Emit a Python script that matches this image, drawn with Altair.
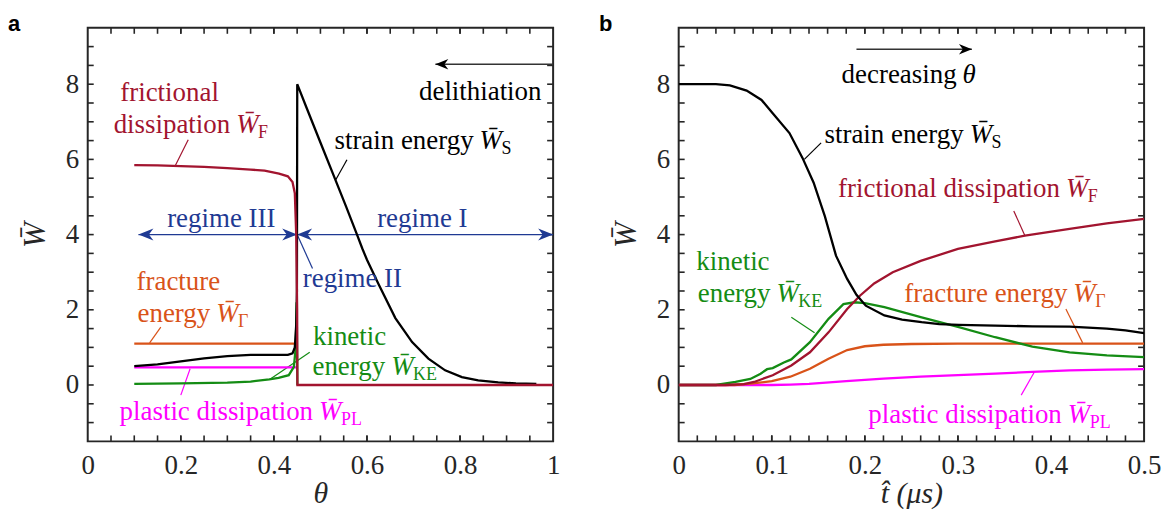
import altair as alt
import pandas as pd
import numpy as np

# ---------------- panel a : energies vs theta ----------------
th_S = [0.10, 0.15, 0.20, 0.25, 0.30, 0.35, 0.40, 0.43, 0.44, 0.445, 0.448, 0.4495, 0.4502,
        0.47, 0.50, 0.532, 0.555, 0.578, 0.59, 0.60, 0.625, 0.661, 0.697, 0.732, 0.768,
        0.804, 0.839, 0.882, 0.92, 0.964]
S_a = [0.50, 0.55, 0.63, 0.71, 0.77, 0.80, 0.80, 0.80, 0.84, 1.00, 1.60, 2.50, 8.00,
       7.38, 6.45, 5.46, 4.75, 4.02, 3.63, 3.33, 2.68, 1.78, 1.14, 0.70, 0.39,
       0.21, 0.12, 0.07, 0.04, 0.03]
th_F = [0.10, 0.15, 0.20, 0.25, 0.30, 0.35, 0.38, 0.411, 0.43, 0.44, 0.445, 0.448, 0.4500, 0.4505, 1.0]
F_a = [5.85, 5.84, 5.82, 5.80, 5.77, 5.73, 5.70, 5.62, 5.55, 5.40, 5.10, 4.00, 2.00, 0.00, 0.00]
th_G = [0.10, 0.45]
G_a = [1.10, 1.10]
th_P = [0.10, 0.449]
P_a = [0.47, 0.47]
th_K = [0.10, 0.20, 0.30, 0.35, 0.39, 0.41, 0.432, 0.443, 0.447, 0.449, 0.4505]
K_a = [0.03, 0.04, 0.06, 0.09, 0.15, 0.19, 0.26, 0.48, 1.00, 2.20, 0.00]

# ---------------- panel b : energies vs time ----------------
t_S = [0.0, 0.02, 0.04, 0.055, 0.073, 0.089, 0.101, 0.119, 0.133, 0.145, 0.157, 0.169, 0.181,
       0.191, 0.201, 0.221, 0.24, 0.261, 0.28, 0.301, 0.34, 0.38, 0.42, 0.46, 0.48, 0.5]
S_b = [8.0, 8.0, 8.0, 7.97, 7.83, 7.58, 7.23, 6.70, 6.04, 5.38, 4.49, 3.44, 2.82,
       2.40, 2.11, 1.85, 1.74, 1.67, 1.62, 1.60, 1.58, 1.56, 1.55, 1.50, 1.45, 1.38]
t_F = [0.0, 0.05, 0.07, 0.081, 0.101, 0.121, 0.141, 0.161, 0.181, 0.195, 0.21, 0.23, 0.26,
       0.30, 0.34, 0.372, 0.42, 0.46, 0.5]
F_b = [0.0, 0.0, 0.02, 0.08, 0.26, 0.52, 0.87, 1.40, 2.02, 2.38, 2.70, 3.00, 3.30,
       3.62, 3.82, 3.97, 4.15, 4.30, 4.42]
t_K = [0.0, 0.04, 0.061, 0.077, 0.088, 0.095, 0.101, 0.113, 0.121, 0.141, 0.161, 0.177, 0.189,
       0.20, 0.221, 0.261, 0.301, 0.34, 0.38, 0.42, 0.46, 0.5]
K_b = [0.0, 0.0, 0.08, 0.16, 0.30, 0.42, 0.45, 0.60, 0.68, 1.14, 1.76, 2.15, 2.20,
       2.18, 2.07, 1.80, 1.54, 1.27, 1.02, 0.87, 0.79, 0.74]
t_G = [0.0, 0.06, 0.08, 0.10, 0.12, 0.141, 0.161, 0.181, 0.20, 0.22, 0.25, 0.30, 0.5]
G_b = [0.0, 0.0, 0.04, 0.10, 0.22, 0.43, 0.70, 0.93, 1.03, 1.07, 1.09, 1.10, 1.10]
t_P = [0.0, 0.10, 0.12, 0.14, 0.18, 0.22, 0.26, 0.30, 0.34, 0.38, 0.42, 0.46, 0.5]
P_b = [0.0, 0.0, 0.01, 0.03, 0.10, 0.17, 0.22, 0.26, 0.30, 0.35, 0.39, 0.41, 0.42]

# axis tick values
xa_labels = [0, 0.2, 0.4, 0.6, 0.8, 1]
xb_labels = [0, 0.1, 0.2, 0.3, 0.4, 0.5]
y_labels = [0, 2, 4, 6, 8]
xa_minor = list(np.round(np.arange(0.05, 1.0, 0.05), 3))
xb_minor = list(np.round(np.arange(0.02, 0.5, 0.02), 3))
y_minor = list(np.round(np.arange(-1.0, 9.01, 0.5), 2))

SERIF = "Liberation Serif"
FS = 27
SUB = 18
W, H = 467, 415
YDOM = [-1.5, 9.5]
C_F = "#A2142F"; C_S = "#000000"; C_G = "#D95319"; C_K = "#148C14"; C_P = "#FF00FF"
C_R = "#1F3A93"; AX = "#262626"

RIGHT_HEAD = "M0,0L-2,-0.8L-1.4,0L-2,0.8Z"
LEFT_HEAD = "M0,0L2,-0.8L1.4,0L2,0.8Z"


def make_panel(xdom, xlabels, xminor, xtitle, curves, labels, leaders, arrows, heads, letter):
    xaxis = alt.Axis(values=xlabels, format="~g", ticks=False, tickSize=0, domain=False, grid=False,
                     labelFont=SERIF, labelFontSize=FS, labelColor=AX, labelPadding=11,
                     labelFlush=False, labelOverlap=False,
                     title=xtitle, titleFont=SERIF, titleFontSize=30, titleFontStyle="italic",
                     titleFontWeight="normal", titleColor=AX, titlePadding=0)
    yaxis = alt.Axis(values=y_labels, format="~g", ticks=False, tickSize=0, domain=False, grid=False,
                     labelFont=SERIF, labelFontSize=FS, labelColor=AX, labelPadding=9,
                     labelOverlap=False,
                     title="W\u0304", titleFont=SERIF, titleFontSize=31, titleFontStyle="italic",
                     titleFontWeight="normal", titleColor=AX, titlePadding=14)
    X = alt.X("x:Q", scale=alt.Scale(domain=xdom, nice=False, zero=False), axis=xaxis)
    Y = alt.Y("y:Q", scale=alt.Scale(domain=YDOM, nice=False, zero=False), axis=yaxis)
    layers = []

    # frame
    dfr = pd.DataFrame({"x": [xdom[0]], "x2": [xdom[1]], "y": [YDOM[0]], "y2": [YDOM[1]]})
    layers.append(alt.Chart(dfr).mark_rect(fill=None, stroke=AX, strokeWidth=2).encode(
        x=X, x2="x2:Q", y=Y, y2="y2:Q"))

    # ticks (inward, all four sides)
    dx_t = pd.DataFrame({"x": xminor + [v for v in xlabels if 0 < v < xdom[1]]})
    dy_t = pd.DataFrame({"y": y_minor})
    layers.append(alt.Chart(dx_t).mark_rule(color=AX, strokeWidth=1.6).encode(
        x=X, y=alt.value(H), y2=alt.value(H - 6)))
    layers.append(alt.Chart(dx_t).mark_rule(color=AX, strokeWidth=1.6).encode(
        x=X, y=alt.value(0), y2=alt.value(6)))
    layers.append(alt.Chart(dy_t).mark_rule(color=AX, strokeWidth=1.6).encode(
        y=Y, x=alt.value(0), x2=alt.value(6)))
    layers.append(alt.Chart(dy_t).mark_rule(color=AX, strokeWidth=1.6).encode(
        y=Y, x=alt.value(W), x2=alt.value(W - 6)))

    # leaders
    for (x1, y1, x2, y2, c) in leaders:
        d = pd.DataFrame({"x": [x1], "y": [y1], "x2": [x2], "y2": [y2]})
        layers.append(alt.Chart(d).mark_rule(color=c, strokeWidth=1.2).encode(
            x=X, y=Y, x2="x2:Q", y2="y2:Q"))

    # arrows
    for (x1, x2, yv, c, sw) in arrows:
        d = pd.DataFrame({"x": [x1], "y": [yv], "x2": [x2]})
        layers.append(alt.Chart(d).mark_rule(color=c, strokeWidth=sw).encode(
            x=X, y=Y, x2="x2:Q"))
    for (xv, yv, direction, c, sz) in heads:
        d = pd.DataFrame({"x": [xv], "y": [yv]})
        layers.append(alt.Chart(d).mark_point(
            shape=RIGHT_HEAD if direction == "right" else LEFT_HEAD,
            filled=True, size=sz, color=c, opacity=1, strokeWidth=0).encode(x=X, y=Y))

    # curves
    for (xs, ys, c) in curves:
        d = pd.DataFrame({"x": xs, "y": ys, "i": list(range(len(xs)))})
        layers.append(alt.Chart(d).mark_line(color=c, strokeWidth=2.3, clip=True).encode(
            x=X, y=Y, order="i:Q"))

    # labels
    for lab in labels:
        kind = lab[0]
        if kind == "plain":
            _, text, xv, yv, align, c = lab
            d = pd.DataFrame({"x": [xv], "y": [yv], "t": [text]})
            layers.append(alt.Chart(d).mark_text(
                font=SERIF, fontSize=FS, color=c, align=align, baseline="middle").encode(
                x=X, y=Y, text="t:N"))
        elif kind == "W":
            _, text, xv, yv, sub, c = lab
            d = pd.DataFrame({"x": [xv], "y": [yv], "t": [text], "w": ["W\u0304"], "s": [sub]})
            if text:
                layers.append(alt.Chart(d).mark_text(
                    font=SERIF, fontSize=FS, color=c, align="right", baseline="middle", dx=-6).encode(
                    x=X, y=Y, text="t:N"))
            layers.append(alt.Chart(d).mark_text(
                font=SERIF, fontSize=FS, fontStyle="italic", color=c, align="left",
                baseline="middle").encode(x=X, y=Y, text="w:N"))
            layers.append(alt.Chart(d).mark_text(
                font=SERIF, fontSize=SUB, color=c, align="left", baseline="middle",
                dx=22, dy=8).encode(x=X, y=Y, text="s:N"))
        elif kind == "theta":
            _, text, xv, yv, c = lab
            d = pd.DataFrame({"x": [xv], "y": [yv], "t": [text], "w": ["\u03b8"]})
            layers.append(alt.Chart(d).mark_text(
                font=SERIF, fontSize=FS, color=c, align="right", baseline="middle", dx=-6).encode(
                x=X, y=Y, text="t:N"))
            layers.append(alt.Chart(d).mark_text(
                font=SERIF, fontSize=FS, fontStyle="italic", color=c, align="left",
                baseline="middle").encode(x=X, y=Y, text="w:N"))

    # panel letter
    dl = pd.DataFrame({"t": [letter]})
    layers.append(alt.Chart(dl).mark_text(
        font="Liberation Sans", fontSize=22, fontWeight="bold", color="#000000",
        align="left", baseline="alphabetic").encode(
        x=alt.value(-80), y=alt.value(3), text="t:N"))

    return alt.layer(*layers).properties(width=W, height=H)


panel_a = make_panel(
    [0, 1], xa_labels, xa_minor, "\u03b8",
    curves=[(th_P, P_a, C_P), (th_G, G_a, C_G), (th_K, K_a, C_K), (th_S, S_a, C_S), (th_F, F_a, C_F)],
    labels=[
        ("plain", "frictional", 0.07, 7.76, "left", C_F),
        ("W", "dissipation", 0.319, 6.91, "F", C_F),
        ("W", "strain energy", 0.842, 6.49, "S", C_S),
        ("plain", "delithiation", 0.975, 7.8, "right", C_S),
        ("plain", "regime III", 0.287, 4.42, "center", C_R),
        ("plain", "regime I", 0.719, 4.42, "center", C_R),
        ("plain", "regime II", 0.462, 2.82, "left", C_R),
        ("plain", "fracture", 0.105, 2.75, "left", C_G),
        ("W", "energy", 0.276, 1.89, "\u0393", C_G),
        ("plain", "kinetic", 0.484, 1.27, "left", C_K),
        ("W", "energy", 0.652, 0.48, "KE", C_K),
        ("W", "plastic dissipation", 0.497, -0.72, "PL", C_P),
    ],
    leaders=[
        (0.216, 6.52, 0.188, 5.83, C_F),
        (0.557, 5.99, 0.533, 5.46, C_S),
        (0.45, 4.0, 0.483, 3.1, C_R),
        (0.157, 1.54, 0.133, 1.12, C_G),
        (0.477, 0.87, 0.394, 0.17, C_K),
        (0.22, 0.43, 0.20, -0.27, C_P),
    ],
    arrows=[(0.109, 1.0, 4.0, C_R, 1.3), (0.747, 1.0, 8.53, "#333333", 1.6)],
    heads=[(0.109, 4.0, "left", C_R, 225), (0.45, 4.0, "right", C_R, 225),
           (0.45, 4.0, "left", C_R, 225), (1.0, 4.0, "right", C_R, 225),
           (0.747, 8.53, "left", "#000000", 169)],
    letter="a")

panel_b = make_panel(
    [0, 0.5], xb_labels, xb_minor, "t\u0302 (\u03bcs)",
    curves=[(t_P, P_b, C_P), (t_G, G_b, C_G), (t_K, K_b, C_K), (t_F, F_b, C_F), (t_S, S_b, C_S)],
    labels=[
        ("theta", "decreasing", 0.305, 8.25, C_S),
        ("W", "strain energy", 0.3126, 6.66, "S", C_S),
        ("W", "frictional dissipation", 0.416, 5.2, "F", C_F),
        ("plain", "kinetic", 0.019, 3.26, "left", C_K),
        ("W", "energy", 0.105, 2.42, "KE", C_K),
        ("W", "fracture energy", 0.424, 2.42, "\u0393", C_G),
        ("W", "plastic dissipation", 0.418, -0.8, "PL", C_P),
    ],
    leaders=[
        (0.153, 6.44, 0.135, 6.0, C_S),
        (0.36, 4.63, 0.372, 3.97, C_F),
        (0.121, 1.8, 0.146, 1.39, C_K),
        (0.416, 2.02, 0.434, 1.12, C_G),
        (0.382, 0.34, 0.368, -0.27, C_P),
    ],
    arrows=[(0.191, 0.315, 8.93, "#333333", 1.6)],
    heads=[(0.315, 8.93, "right", "#000000", 169)],
    letter="b")

chart = alt.hconcat(panel_a, panel_b, spacing=126, bounds="flush").properties(
    padding={"left": 0, "top": 4, "right": 5, "bottom": 5}, background="white"
).configure_view(stroke=None)

chart.save("out.html", embed_options={"renderer": "svg", "actions": False})
